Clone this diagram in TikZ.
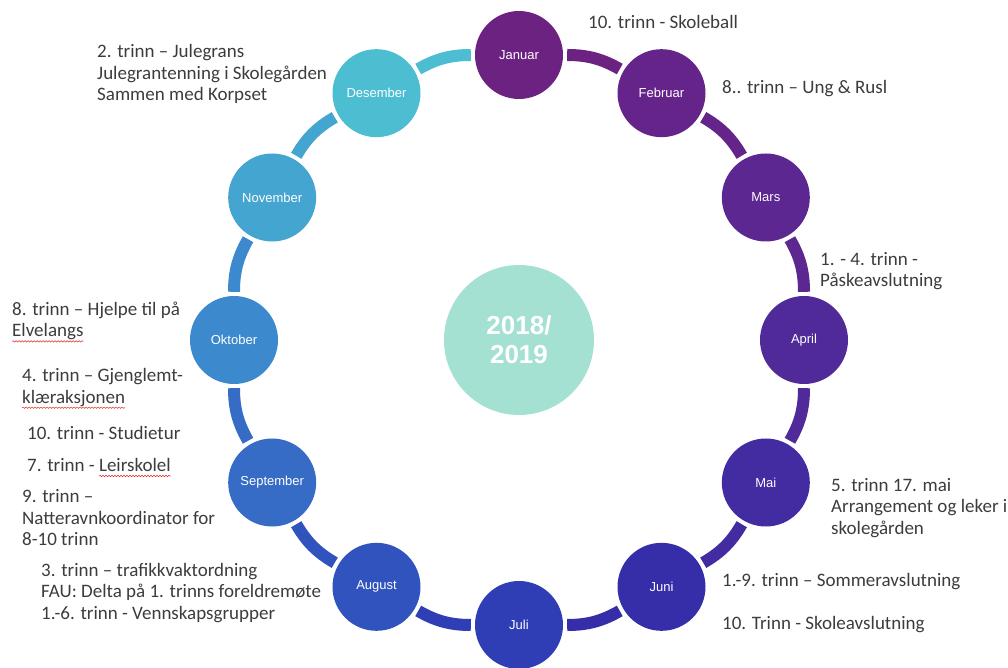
\documentclass[tikz,border=0pt]{standalone}
\usepackage{fontspec}
\setmainfont{Carlito}
\newfontfamily\monthfont{Liberation Sans}
\usepackage{tikz}
\usetikzlibrary{decorations.pathmorphing}

\definecolor{spellred}{HTML}{E02828}
\definecolor{yearcol}{HTML}{A5E1D3}
\definecolor{notecol}{HTML}{3C3C3C}
\definecolor{mcol0}{HTML}{6B2280}
\definecolor{mcol1}{HTML}{642489}
\definecolor{mcol2}{HTML}{5C2791}
\definecolor{mcol3}{HTML}{512A9A}
\definecolor{mcol4}{HTML}{432BA1}
\definecolor{mcol5}{HTML}{362DA8}
\definecolor{mcol6}{HTML}{2F3EB5}
\definecolor{mcol7}{HTML}{3153BD}
\definecolor{mcol8}{HTML}{366CC5}
\definecolor{mcol9}{HTML}{3C8ACD}
\definecolor{mcol10}{HTML}{44A5D0}
\definecolor{mcol11}{HTML}{4DBDD2}

% wavy red mark under a word
\newlength\spellwd
\newcommand\spellmark[1]{\settowidth\spellwd{#1}#1\tikz[overlay]\draw[spellred, line width=0.5pt, decorate, decoration={snake, amplitude=0.7pt, segment length=3pt}] (-\spellwd,-4.5pt) -- (0pt,-4.5pt);}

\tikzstyle{month} = [circle, minimum size=88pt, inner sep=0pt, text=white, font=\monthfont\fontsize{13}{15}\selectfont]
\tikzstyle{year} = [circle, minimum size=150pt, inner sep=0pt, fill=yearcol, text=white, align=center, font=\monthfont\bfseries\fontsize{26}{29}\selectfont]
\tikzstyle{note} = [anchor=west, align=left, inner sep=0pt, text=notecol, font=\fontsize{19}{21.5}\selectfont]
\tikzstyle{link} = [line width=12pt, shorten <=4pt, shorten >=4pt, bend left=15]

\begin{document}
\begin{tikzpicture}[x=1pt, y=1pt]
	\useasboundingbox (-519,-328) rectangle (489,340);

	% Draw the year and the months
	\node (year) [year] at (0,0) {2018/\\2019};
	\foreach \name [count=\i from 0] in {Januar,Februar,Mars,April,Mai,Juni,Juli,August,September,Oktober,November,Desember}
		\node (m\i) [month, fill=mcol\i] at ({90-30*\i}:285) {\name};

	% Draw the ring
	\foreach \i [evaluate=\i as \j using {int(mod(\i+1,12))}] in {0,...,11}
		\draw [link, draw=mcol\i] (m\i) to (m\j);

	% Draw the notes
	\node (jan) [note] at (69,318) {10. trinn - Skoleball};
	\node (feb) [note] at (203,251) {8.. trinn – Ung \& Rusl};
	\node (mar) [note] at (301,69) {1. - 4. trinn -\\Påskeavslutning};
	\node (mai) [note] at (312,-168) {5. trinn 17. mai\\Arrangement og leker i\\skolegården};
	\node (jun) [note] at (203,-242) {1.-9. trinn – Sommeravslutning};
	\node (jun2) [note] at (203,-285) {10. Trinn - Skoleavslutning};
	\node (aug) [note] at (-478,-253) {3. trinn – trafikkvaktordning\\FAU: Delta på 1. trinns foreldremøte\\1.-6. trinn - Vennskapsgrupper};
	\node (sep) [note] at (-497,-178) {9. trinn –\\Natteravnkoordinator for\\8-10 trinn};
	\node (sep2) [note] at (-492,-125) {7. trinn - \spellmark{Leirskolel}};
	\node (okt) [note] at (-492,-93) {10. trinn - Studietur};
	\node (okt2) [note] at (-497,-47.5) {4. trinn – Gjenglemt-\\\spellmark{klæraksjonen}};
	\node (okt3) [note] at (-507,19) {8. trinn – Hjelpe til på\\\spellmark{Elvelangs}};
	\node (des) [note] at (-422,266) {2. trinn – Julegrans\\Julegrantenning i Skolegården\\Sammen med Korpset};

\end{tikzpicture}
\end{document}
